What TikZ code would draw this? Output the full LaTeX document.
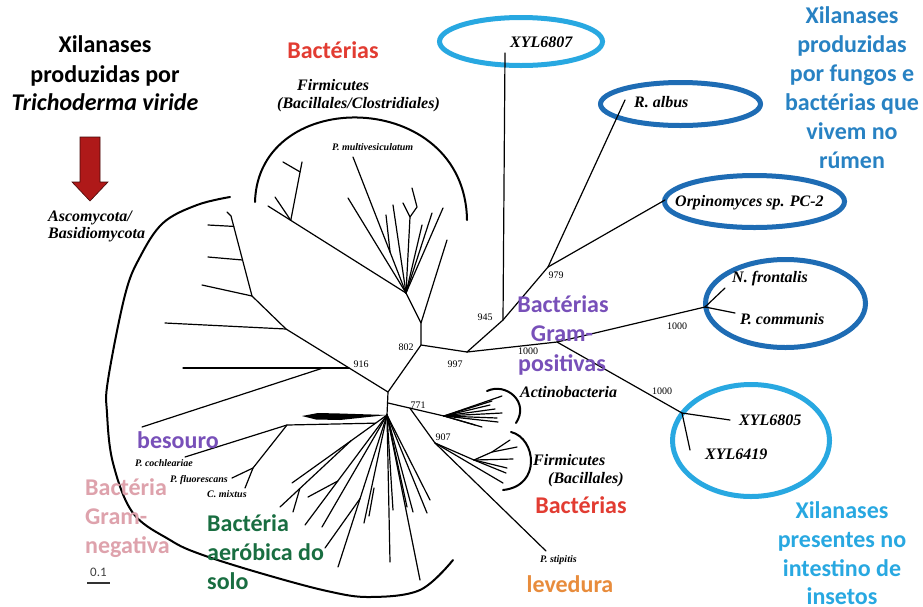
\documentclass[tikz,border=0pt]{standalone}
\usepackage{fontspec}
\setmainfont{Liberation Serif}
\newfontfamily\carl{Carlito}
\usetikzlibrary{shapes.geometric,calc}
\definecolor{cred}{RGB}{226,60,50}
\definecolor{cteal}{RGB}{40,130,195}
\definecolor{clight}{RGB}{40,168,225}
\definecolor{cpurp}{RGB}{120,80,185}
\definecolor{cpink}{RGB}{222,162,172}
\definecolor{cgreen}{RGB}{25,110,65}
\definecolor{corange}{RGB}{232,140,60}
\definecolor{cdblue}{RGB}{30,108,180}
\definecolor{cdred}{RGB}{175,25,25}
\begin{document}
\begin{tikzpicture}[x=1pt,y=-1pt,
  tl/.style={font=\fontsize{24}{29}\carl\bfseries, anchor=base, inner sep=0pt},
  sp/.style={font=\fontsize{16}{19}\selectfont\bfseries\itshape, anchor=base west, inner sep=0pt},
  sm/.style={font=\fontsize{10}{12}\selectfont\bfseries\itshape, anchor=base west, inner sep=0pt},
  bsn/.style={font=\fontsize{10}{12}\selectfont, inner sep=0pt},
  br/.style={line width=1.2pt, line cap=round},
  brk/.style={line width=2pt, line cap=round},
  ring/.style={ellipse, draw=#1, line width=5pt, inner sep=0pt},
]
\useasboundingbox (0,0) rectangle (923,606);
\fill[white] (0,0) rectangle (923,606);

% ---------- ellipses ----------
\node[ring=clight, minimum width=163pt, minimum height=48pt] (e6807) at (521,41.5) {};
\node[ring=cdblue, minimum width=160pt, minimum height=43pt] (eRa) at (680.5,104) {};
\node[ring=cdblue, minimum width=180pt, minimum height=52pt] (eOr) at (754.5,201.5) {};
\node[ring=cdblue, minimum width=160pt, minimum height=88pt] (eNf) at (785.5,303.5) {};
\node[ring=clight, minimum width=157pt, minimum height=112pt] (eXy) at (751,440.5) {};

% ---------- tree coordinates ----------
\coordinate (A) at (388,392);
\coordinate (Av) at (388,403);
\coordinate (F) at (387,415);
\coordinate (N802) at (421,345);
\coordinate (N802u) at (421,323);
\coordinate (C) at (406,293);
\coordinate (Rb) at (447,240);
\coordinate (N997) at (467,352);
\coordinate (N945) at (503,320);
\coordinate (T6807) at (505,53);
\coordinate (N979) at (548,267);
\coordinate (TRa) at (625,100);
\coordinate (TOr) at (665,200);
\coordinate (N1k) at (557,342);
\coordinate (NNf) at (705,307);
\coordinate (TNf) at (725,288);
\coordinate (TPc) at (735,313);
\coordinate (NXy) at (682,413);
\coordinate (T6805) at (730,420);
\coordinate (T6419) at (690,450);
\coordinate (Act) at (444,416);
\coordinate (N907) at (435,443);
\coordinate (Fir) at (474,460);
\coordinate (FirB) at (492,452);
\coordinate (TPs) at (546,551);
\coordinate (n1) at (286,329);
\coordinate (N916) at (349,368);
\coordinate (N916b) at (323,368);
\coordinate (n2) at (252,296);
\coordinate (ntop) at (231,216);
\coordinate (Nb) at (287,425);
\coordinate (Nf) at (253,468);
\coordinate (D) at (268,206);
\coordinate (Eu) at (302,162);
\coordinate (Pm) at (353,157);
\coordinate (V) at (410,217);
\coordinate (T1) at (292,483);
\coordinate (T2) at (280,507);

% ---------- main backbone ----------
\draw[br] (F) -- (A) -- (N802) -- (N802u) -- (C);
\draw[br] (N802u) -- (Rb);
\draw[br] (N802) -- (N997) -- (N945) -- (T6807);
\draw[br] (N945) -- (N979) -- (TRa);
\draw[br] (N979) -- (TOr);
\draw[br] (N997) -- (N1k) -- (NNf) -- (TNf);
\draw[br] (NNf) -- (TPc);
\draw[br] (N1k) -- (NXy) -- (T6805);
\draw[br] (NXy) -- (T6419);
\draw[br] (Av) -- (Act);
\draw[br] ($(Av)!0.39!(Act)$) -- (N907) -- (Fir);
\draw[br] (N907) -- (TPs);
\draw[br] (N907) -- (503,483);

% Actinobacteria fan
\foreach \x/\y in {502/396,492/401,490/405,495/409,502/413,497/418,498/422,482/427,475/425}
  \draw[br] (Act) -- (\x,\y);
% Firmicutes (Bacillales) fan
\draw[br] (Fir) -- (FirB) -- (510,440);
\draw[br] (FirB) -- (517,447);
\foreach \x/\y in {513/459,507/468,506/473}
  \draw[br] (Fir) -- (\x,\y);

% left part
\draw[br] (A) -- (n1) -- (n2) -- (ntop) -- (227,212);
\draw[br] (N916) -- (183,368);
\draw[br] (N916b) -- (142,427);
\draw[br] (n1) -- (165,323);
\draw[br] (n2) -- (202,285);
\draw[br] ($(n2)!0.45!(ntop)$) -- (208,257);
\draw[br] ($(n2)!0.87!(ntop)$) -- (208,225);

% upper Firmicutes clade
\draw[br] (C) -- (D);
\coordinate (E) at ($(C)!0.835!(D)$);
\draw[br] (E) -- (275,197);
\draw[br] (E) -- (Eu);
\draw[br] ($(E)!0.83!(Eu)$) -- (283,162);
\draw[br] (C) -- (Pm);
\draw[br] ($(C)!0.3!(Pm)$) -- (386,215);
\foreach \x/\y in {348/198,393/205,422/225,432/213,443/208}
  \draw[br] (C) -- (\x,\y);
\draw[br] (C) -- (V) -- (403,203);
\draw[br] (V) -- (417,207) -- (412,188);

% collapsed wedge
\fill (302,416) -- (318,413) -- (340,413.5) -- (387,415) -- (340,420) -- (316,419.5) -- cycle;

% besouro group
\draw[br] ($(F)!0.12!(T1)$) -- (Nb) -- (185,457);
\draw[br] (Nb) -- (Nf) -- (232,478);
\draw[br] (Nf) -- (245,488);

% lower fan
\draw[br] (F) -- (T1);
\coordinate (B1) at ($(F)!0.38!(T1)$);
\draw[br] (B1) -- (T2);
\draw[br] ($(B1)!0.72!(T2)$) -- (293,512);
\draw[br] (F) -- (305,525);
\draw[br] ($(F)!0.6!(305,525)$) -- (308,497);
\draw[br] (F) -- (322,527);
\draw[br] (F) -- (338,567);
\draw[br] ($(F)!0.55!(338,567)$) -- (325,548);
\draw[br] (F) -- (364,523);
\draw[br] (374,488) -- (369,516);
\foreach \x/\y in {390/562,393/510,407/507,420/580,413/512,427/513,430/500}
  \draw[br] (F) -- (\x,\y);

% ---------- brackets ----------
\draw[brk] (255,202) .. controls (258,85) and (465,88) .. (467,220);
\draw[brk] plot[smooth, tension=0.6] coordinates {(230,197) (197,205) (163,223) (140,257) (125,295) (108,380) (107,413) (113,463) (133,513) (170,540) (200,554) (260,573) (327,591) (370,597) (420,590) (453,560)};
\draw[brk] (487,391) .. controls (506,382) and (530,402) .. (516,423);
\draw[brk] (511,432) .. controls (536,438) and (542,486) .. (503,490);

% ---------- red arrow ----------
\fill[cdred, draw=black!60!cdred, line width=0.6pt] (80,137) -- (100,137) -- (100,182) -- (108,182) -- (90,201) -- (72,182) -- (80,182) -- cycle;

% ---------- bootstrap values ----------
\node[bsn] (b945) at (485,317) {945};
\node[bsn] (b979) at (556,275) {979};
\node[bsn] (b802) at (406,347) {802};
\node[bsn] (b997) at (455,364) {997};
\node[bsn] (b916) at (361,364) {916};
\node[bsn] (b771) at (418,405) {771};
\node[bsn] (b907) at (443,437) {907};
\node[bsn] (b1a) at (528,351) {1000};
\node[bsn] (b1b) at (677,326) {1000};
\node[bsn] (b1c) at (662,391) {1000};

% ---------- species labels ----------
\node[sp] (l6807) at (510,47) {XYL6807};
\node[sp] (lRa) at (634,107) {R. albus};
\node[sp] (lOr) at (675,206) {Orpinomyces sp. PC-2};
\node[sp] (lNf) at (732,282) {N. frontalis};
\node[sp] (lPc) at (740,324) {P. communis};
\node[sp] (l6805) at (739,425) {XYL6805};
\node[sp] (l6419) at (705,459) {XYL6419};
\node[sp] (lAct) at (520,397) {Actinobacteria};
\node[sp] (lFir2) at (533,465) {Firmicutes};
\node[sp] (lBac2) at (548,483) {(Bacillales)};
\node[sp] (lFir1) at (297,90) {Firmicutes};
\node[sp] (lBac1) at (277,108) {(Bacillales/Clostridiales)};
\node[sp] (lAsc) at (48,221) {Ascomycota/};
\node[sp] (lBas) at (48,238) {Basidiomycota};
\node[sm] (lPm) at (332,150) {P. multivesiculatum};
\node[sm] (lPco) at (135,466) {P. cochleariae};
\node[sm] (lPfl) at (170,482) {P. fluorescans};
\node[sm] (lCmi) at (207,497) {C. mixtus};
\node[sm] (lPst) at (540,562) {P. stipitis};

% ---------- big labels ----------
\node[tl] (ta1) at (105,52) {Xilanases};
\node[tl] (ta2) at (105,82) {produzidas por};
\node[tl] (ta3) at (105,110) {\itshape Trichoderma viride};

\node[tl, text=cteal] (tb1) at (852,23) {Xilanases};
\node[tl, text=cteal] (tb2) at (852,52) {produzidas};
\node[tl, text=cteal] (tb3) at (852,81) {por fungos e};
\node[tl, text=cteal] (tb4) at (852,110) {bactérias que};
\node[tl, text=cteal] (tb5) at (852,139) {vivem no};
\node[tl, text=cteal] (tb6) at (852,168) {rúmen};

\node[tl, text=clight] (tc1) at (842,518) {Xilanases};
\node[tl, text=clight] (tc2) at (842,547) {presentes no};
\node[tl, text=clight] (tc3) at (842,576) {intestino de};
\node[tl, text=clight] (tc4) at (842,604) {insetos};

\node[tl, text=cred] (td1) at (333,58) {Bactérias};
\node[tl, text=cred] (td2) at (581,513) {Bactérias};
\node[tl, text=corange] (te1) at (570,592) {levedura};

\node[tl, text=cpurp] (tf1) at (563,312) {Bactérias};
\node[tl, text=cpurp] (tf2) at (562,341) {Gram-};
\node[tl, text=cpurp] (tf3) at (562,371) {positivas};

\node[tl, text=cpurp, anchor=base west] (tg1) at (137,448) {besouro};

\node[tl, text=cpink, anchor=base west] (th1) at (85,495) {Bactéria};
\node[tl, text=cpink, anchor=base west] (th2) at (85,524) {Gram-};
\node[tl, text=cpink, anchor=base west] (th3) at (85,553) {negativa};

\node[tl, text=cgreen, anchor=base west] (ti1) at (207,531) {Bactéria};
\node[tl, text=cgreen, anchor=base west] (ti2) at (207,560) {aeróbica do};
\node[tl, text=cgreen, anchor=base west] (ti3) at (207,589) {solo};

% scale bar
\node[font=\fontsize{13}{15}\carl, text=black!75, anchor=base west, inner sep=0pt] (sc) at (90,576) {0.1};
\coordinate (s1) at (87,583);
\coordinate (s2) at (110,583);
\draw[line width=1.5pt, black!80] (s1) -- (s2);
\end{tikzpicture}
\end{document}
